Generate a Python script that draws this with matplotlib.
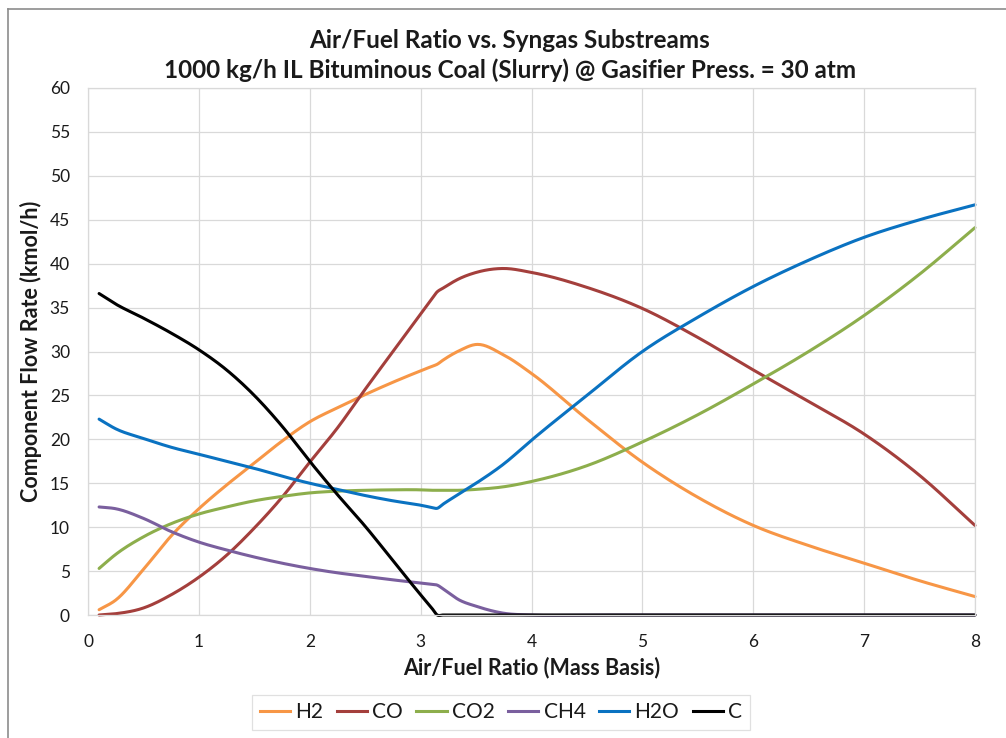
import numpy as np
import matplotlib
matplotlib.use("Agg")
import matplotlib.pyplot as plt
from matplotlib.lines import Line2D

plt.rcParams["font.family"] = ["Lato", "DejaVu Sans"]

# Air/fuel ratio (mass basis) at which each substream was evaluated
air_fuel = [0.1, 0.25, 0.5, 0.75, 1.0, 1.25, 1.5, 1.75, 2.0, 2.25, 2.5, 2.75,
            3.0, 3.1, 3.15, 3.2, 3.35, 3.5, 3.75, 4.0, 4.5, 5.0, 5.5, 6.0,
            6.5, 7.0, 7.5, 8.0]

# Component flow rates (kmol/h)
h2 = [0.6, 1.7, 5.2, 9.0, 12.1, 14.8, 17.3, 19.8, 22.0, 23.6, 25.1, 26.5,
      27.8, 28.3, 28.55, 29.0, 30.1, 30.8, 29.6, 27.5, 22.3, 17.4, 13.4, 10.2,
      7.9, 5.9, 3.9, 2.1]
co = [0.0, 0.15, 0.8, 2.3, 4.3, 6.8, 9.9, 13.4, 17.4, 21.3, 25.7, 30.0,
      34.3, 36.0, 36.8, 37.2, 38.3, 39.0, 39.45, 39.0, 37.3, 34.9, 31.6, 27.9,
      24.3, 20.6, 15.9, 10.2]
co2 = [5.3, 6.9, 8.9, 10.4, 11.5, 12.3, 13.0, 13.5, 13.9, 14.1, 14.2, 14.25,
       14.25, 14.2, 14.2, 14.2, 14.2, 14.3, 14.6, 15.2, 17.0, 19.7, 22.8, 26.3,
       30.0, 34.1, 38.8, 44.1]
ch4 = [12.3, 12.1, 11.0, 9.5, 8.3, 7.4, 6.6, 5.9, 5.3, 4.8, 4.4, 4.0,
       3.65, 3.5, 3.4, 3.0, 1.7, 1.0, 0.2, 0.0, 0.0, 0.0, 0.0, 0.0,
       0.0, 0.0, 0.0, 0.0]
h2o = [22.3, 21.2, 20.1, 19.1, 18.3, 17.5, 16.7, 15.8, 15.0, 14.3, 13.6, 13.0,
       12.5, 12.25, 12.15, 12.6, 13.8, 15.0, 17.2, 19.9, 25.0, 30.0, 33.9, 37.4,
       40.4, 43.0, 45.0, 46.7]
carbon = [36.6, 35.4, 33.8, 32.1, 30.2, 27.9, 25.0, 21.5, 17.5, 13.7, 10.1, 6.2,
          2.3, 0.8, 0.0, 0.0, 0.0, 0.0, 0.0, 0.0, 0.0, 0.0, 0.0, 0.0,
          0.0, 0.0, 0.0, 0.0]

series_names = ["H2", "CO", "CO2", "CH4", "H2O", "C"]
series_values = [h2, co, co2, ch4, h2o, carbon]
series_colors = ["#F79646", "#A43F3C", "#8DAE4C", "#7A5F9E", "#0A72C1", "#000000"]

x_ticks = list(range(0, 9))
y_ticks = list(range(0, 61, 5))


def smooth_curve(xs, ys, n=20):
    """Piecewise cubic Hermite curve through the points, with weighted centred slopes."""
    x = np.asarray(xs, float)
    y = np.asarray(ys, float)
    h = np.diff(x)
    d = np.diff(y) / h
    m = np.empty_like(y)
    m[0], m[-1] = d[0], d[-1]
    m[1:-1] = (h[:-1] * d[1:] + h[1:] * d[:-1]) / (h[:-1] + h[1:])
    px, py = [x[:1]], [y[:1]]
    t = np.linspace(0, 1, n)[1:]
    for i in range(len(x) - 1):
        h00 = 2 * t**3 - 3 * t**2 + 1
        h10 = t**3 - 2 * t**2 + t
        h01 = -2 * t**3 + 3 * t**2
        h11 = t**3 - t**2
        px.append(x[i] + t * h[i])
        py.append(h00 * y[i] + h10 * h[i] * m[i] + h01 * y[i + 1] + h11 * h[i] * m[i + 1])
    return np.concatenate(px), np.concatenate(py)


W, H = 1006, 738
fig = plt.figure(figsize=(W / 100, H / 100), dpi=100)
L, R, T, B = 88, 975, 88, 615
ax = fig.add_axes([L / W, 1 - B / H, (R - L) / W, (B - T) / H])
ax.set_xlim(0, 8)
ax.set_ylim(0, 60)
ax.set_xticks(x_ticks)
ax.set_yticks(y_ticks)
ax.grid(True, color="#d9d9d9", lw=0.9)
ax.set_axisbelow(True)
for sp in ax.spines.values():
    sp.set_color("#d9d9d9")
    sp.set_linewidth(0.9)
ax.tick_params(axis="both", length=0, labelsize=12.5, colors="#1a1a1a")
ax.tick_params(axis="y", pad=13)
ax.tick_params(axis="x", pad=14)

handles = []
for name, vals, col in zip(series_names, series_values, series_colors):
    xs, ys = smooth_curve(air_fuel, vals)
    ax.plot(xs, ys, color=col, lw=2.2, solid_capstyle="round",
            solid_joinstyle="round", clip_on=False)
    handles.append(Line2D([0], [0], color=col, lw=2.2))

# titles and axis labels
fig.text(510 / W, 1 - 40 / H, "Air/Fuel Ratio vs. Syngas Substreams",
         ha="center", va="center", fontsize=17.5, fontweight="bold", color="#1a1a1a")
fig.text(510 / W, 1 - 70 / H,
         "1000 kg/h IL Bituminous Coal (Slurry) @ Gasifier Press. = 30 atm",
         ha="center", va="center", fontsize=17.5, fontweight="bold", color="#1a1a1a")
fig.text((L + R) / 2 / W, 1 - 668 / H, "Air/Fuel Ratio (Mass Basis)",
         ha="center", va="center", fontsize=15.5, fontweight="bold", color="#1a1a1a")
fig.text(31 / W, 1 - (T + B) / 2 / H, "Component Flow Rate (kmol/h)",
         ha="center", va="center", rotation=90, fontsize=15.5, fontweight="bold",
         color="#1a1a1a")

leg = fig.legend(handles, series_names, loc="center",
                 bbox_to_anchor=(501 / W, 1 - 712.5 / H), ncol=6,
                 frameon=True, fancybox=False, edgecolor="#d9d9d9",
                 fontsize=15, handlelength=1.45, handletextpad=0.25,
                 columnspacing=0.65, borderpad=0.35)
leg.get_frame().set_linewidth(0.9)
for txt in leg.get_texts():
    txt.set_color("#1a1a1a")

# chart-area border (left and top edges)
fig.add_artist(Line2D([8 / W, 8 / W], [0, 1 - 9 / H], transform=fig.transFigure,
                      color="#8c8c8c", lw=1.2))
fig.add_artist(Line2D([8 / W, 1], [1 - 9 / H, 1 - 9 / H], transform=fig.transFigure,
                      color="#8c8c8c", lw=1.2))

fig.savefig("out.png", dpi=100, facecolor="white")
